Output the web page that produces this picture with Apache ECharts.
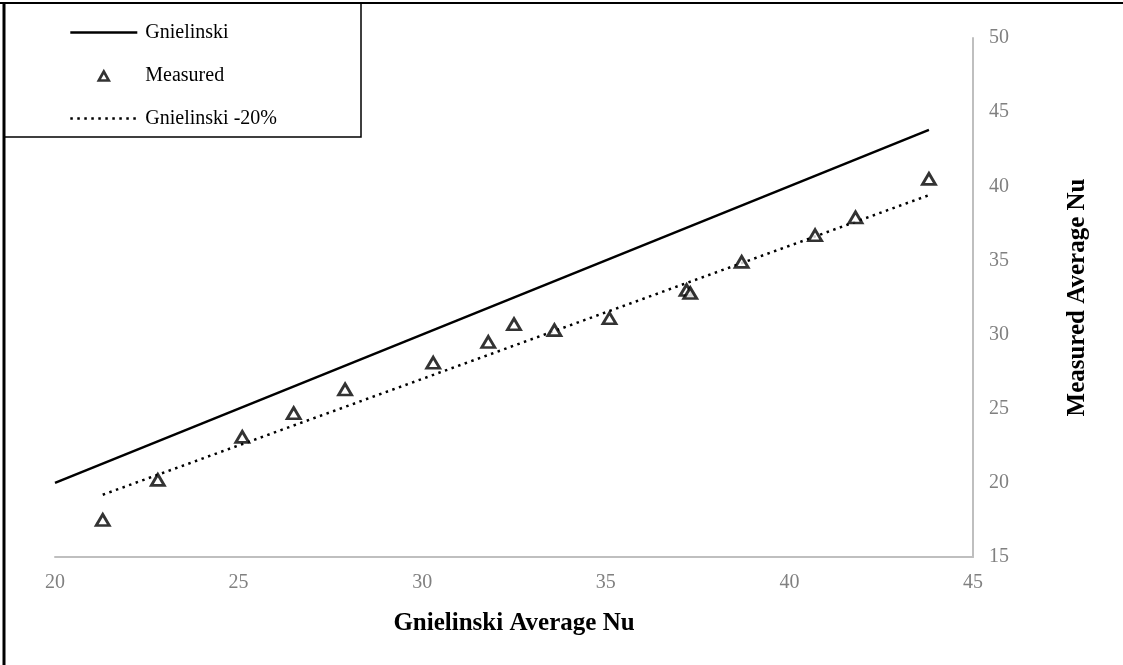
<!DOCTYPE html>
<html>
<head>
<meta charset="utf-8">
<script src="https://cdn.jsdelivr.net/npm/echarts@6/dist/echarts.min.js"></script>
<style>
  html, body { margin: 0; padding: 0; background: #fff; }
  #chart { width: 1123px; height: 665px; }
</style>
</head>
<body>
<div id="chart"></div>
<script>
// ---- data ----
var measuredX = [21.3, 22.8, 25.1, 26.5, 27.9, 30.3, 31.8, 32.5, 33.6, 35.1, 37.2, 37.3, 38.7, 40.7, 41.8, 43.8];
var measuredY = [17.5, 20.2, 23.1, 24.7, 26.3, 28.1, 29.5, 30.7, 30.3, 31.1, 33.0, 32.8, 34.9, 36.7, 37.9, 40.5];
var gnielinskiX = [20, 43.8];
var gnielinskiY = [20, 43.8];
var minus20X = [21.3, 43.8];
var minus20Y = [19.2, 39.4];
var xTicks = { min: 20, max: 45, step: 5 };
var yTicks = { min: 15, max: 50, step: 5 };
var seriesNames = ['Gnielinski', 'Measured', 'Gnielinski -20%'];
var xTitle = 'Gnielinski Average Nu';
var yTitle = 'Measured Average Nu';

function pairs(xs, ys) { return xs.map(function (x, i) { return [x, ys[i]]; }); }

var serif = '"Liberation Serif", "Times New Roman", serif';
var hiddenSymbol = { color: 'rgba(0,0,0,0)', borderWidth: 0, opacity: 0 };
// small triangle centred in a 67x10 icon box (corner moveTo points fix the box size)
var triIcon = 'path://M0,0M67,10M28.5,10L33.5,1L38.5,10Z';

var chart = echarts.init(document.getElementById('chart'));
chart.setOption({
  animation: false,
  backgroundColor: '#ffffff',
  grid: { left: 55, right: 150, top: 38, bottom: 108 },
  legend: {
    orient: 'vertical',
    left: 64, top: 17,
    itemWidth: 67, itemHeight: 10,
    itemGap: 22,
    textStyle: { fontFamily: serif, fontSize: 20, color: '#000', lineHeight: 21, padding: [0, 0, 0, 3] },
    data: [
      { name: seriesNames[0], itemStyle: hiddenSymbol, lineStyle: { width: 2.5 } },
      { name: seriesNames[1], icon: triIcon, itemStyle: { color: '#fff', borderColor: '#000', borderWidth: 2.6 } },
      { name: seriesNames[2], itemStyle: hiddenSymbol, lineStyle: { width: 2.5 } }
    ]
  },
  xAxis: {
    type: 'value',
    min: xTicks.min, max: xTicks.max, interval: xTicks.step,
    name: xTitle, nameLocation: 'middle', nameGap: 54,
    nameTextStyle: { fontFamily: serif, fontSize: 25, fontWeight: 'bold', color: '#000' },
    axisLine: { show: true, lineStyle: { color: '#bfbfbf', width: 2 } },
    axisTick: { show: false },
    splitLine: { show: false },
    axisLabel: { fontFamily: serif, fontSize: 20, color: '#808080', margin: 16 }
  },
  yAxis: {
    type: 'value', position: 'right',
    min: yTicks.min, max: yTicks.max, interval: yTicks.step,
    name: yTitle, nameLocation: 'middle', nameGap: 92, nameRotate: 90,
    nameTextStyle: { fontFamily: serif, fontSize: 25, fontWeight: 'bold', color: '#000' },
    axisLine: { show: true, onZero: false, lineStyle: { color: '#bfbfbf', width: 2 } },
    axisTick: { show: false },
    splitLine: { show: false },
    axisLabel: { fontFamily: serif, fontSize: 20, color: '#808080', margin: 16 }
  },
  series: [
    {
      name: seriesNames[0], type: 'line', data: pairs(gnielinskiX, gnielinskiY),
      showSymbol: false, symbol: 'none',
      lineStyle: { color: '#000', width: 2.5 }, itemStyle: { color: '#000' }, z: 2
    },
    {
      name: seriesNames[1], type: 'scatter', data: pairs(measuredX, measuredY),
      symbol: 'triangle', symbolSize: [13, 11],
      itemStyle: { color: '#fff', borderColor: '#000', borderWidth: 2.8 }, z: 4
    },
    {
      name: seriesNames[2], type: 'line', data: pairs(minus20X, minus20Y),
      showSymbol: false, symbol: 'none',
      lineStyle: { color: '#000', width: 2.5, type: [2.5, 4.5] }, itemStyle: { color: '#000' }, z: 3
    }
  ],
  graphic: [
    { type: 'line', shape: { x1: 0, y1: 3, x2: 1123, y2: 3 }, style: { stroke: '#000', lineWidth: 2 }, z: 100 },
    { type: 'line', shape: { x1: 4, y1: 2, x2: 4, y2: 665 }, style: { stroke: '#000', lineWidth: 3 }, z: 100 },
    { type: 'rect', shape: { x: 4, y: 3, width: 357, height: 134 }, style: { fill: 'none', stroke: '#000', lineWidth: 1.5 }, z: 100 }
  ]
});
</script>
</body>
</html>
